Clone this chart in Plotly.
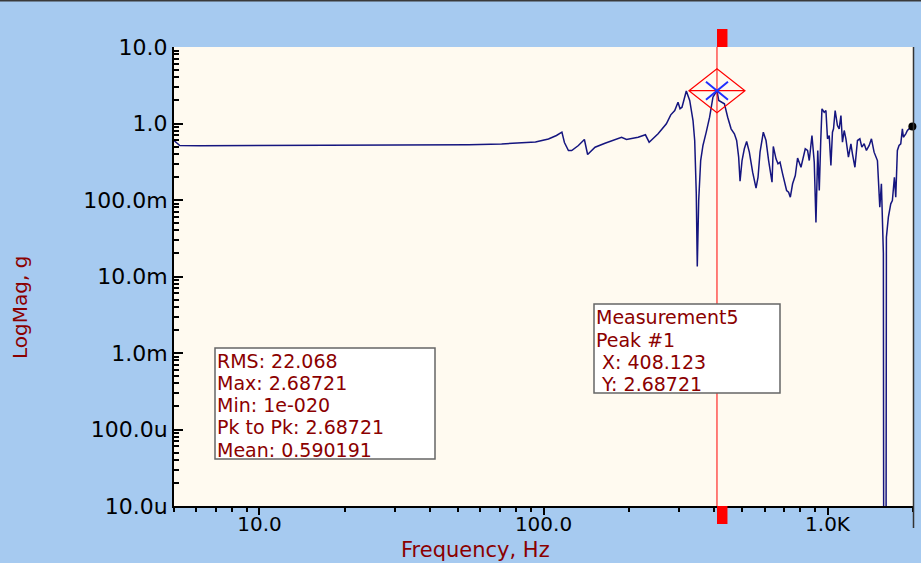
import plotly.graph_objects as go

# ---------------- data ----------------
freq_hz = [
    5.0, 5.24, 6.16, 9.23, 13.8, 20.7, 31.0, 46.4, 54.6, 71.2, 81.7, 93.7,
    104.1, 111.1, 116.1, 118.5, 122.4, 125.7, 132.7, 139.3, 143.0, 151.9,
    164.6, 188.3, 196.0, 215.4, 228.5, 235.5, 253.2, 270.8, 280.6, 289.8,
    297.6, 302.5, 307.4, 318.3, 327.2, 336.1, 340.7, 345.1, 347.9, 351.9,
    357.6, 364.3, 374.1, 384.5, 395.0, 408.123, 414.0, 422.1, 433.5, 445.2,
    457.6, 470.0, 478.7, 486.6, 492.1, 500.1, 509.5, 519.1, 530.6, 545.0,
    560.2, 569.4, 578.7, 594.3, 607.5, 620.4, 637.7, 644.4, 658.7, 669.5,
    680.4, 694.9, 710.3, 717.8, 729.5, 739.7, 753.5, 770.2, 784.6, 806.4,
    835.0, 850.7, 862.5, 881.6, 898.2, 910.6, 924.0, 935.3, 946.8, 956.0,
    973.6, 987.2, 1000, 1014, 1028, 1041, 1050, 1064, 1084, 1099, 1115,
    1129, 1145, 1161, 1185, 1209, 1224, 1249, 1275, 1300, 1321, 1346, 1371,
    1402, 1428, 1459, 1499, 1511, 1528, 1548, 1561, 1573, 1592, 1604, 1612,
    1638, 1670, 1692, 1720, 1739, 1762, 1786, 1811, 1835, 1850, 1886, 1911,
    1964, 1990,
]
mag_g = [
    0.60, 0.516, 0.512, 0.515, 0.515, 0.516, 0.518, 0.522, 0.528, 0.540,
    0.553, 0.574, 0.627, 0.697, 0.770, 0.565, 0.444, 0.444, 0.516, 0.618,
    0.393, 0.490, 0.553, 0.662, 0.618, 0.662, 0.712, 0.570, 0.733, 0.991,
    1.299, 1.479, 1.898, 1.557, 1.633, 2.66, 2.00, 1.094, 0.599, 0.1216,
    0.0135, 0.0985, 0.328, 0.516, 0.770, 1.209, 2.207, 2.68721, 2.00, 1.898,
    1.809, 1.209, 0.852, 0.733, 0.599, 0.363, 0.176, 0.328, 0.467, 0.582,
    0.422, 0.231, 0.1426, 0.1986, 0.422, 0.770, 0.599, 0.328, 0.171, 0.500,
    0.3455, 0.297, 0.312, 0.220, 0.163, 0.133, 0.1265, 0.1088, 0.163, 0.209,
    0.354, 0.268, 0.467, 0.444, 0.328, 0.697, 0.312, 0.0508, 0.444, 0.133,
    0.599, 1.557, 1.405, 1.479, 0.631, 0.697, 0.2825, 0.770, 0.852, 1.479,
    0.942, 0.852, 1.272, 0.570, 0.810, 0.631, 0.363, 0.543, 0.402, 0.268,
    0.599, 0.631, 0.490, 0.543, 0.444, 0.516, 0.631, 0.422, 0.328, 0.180,
    0.0805, 0.163, 0.0362, 0.0202, 1e-20, 0.00161, 0.0326, 0.0596, 0.0892,
    0.0985, 0.1986, 0.1088, 0.444, 0.516, 0.543, 0.852, 0.662, 0.733, 0.810,
    0.895, 0.914,
]

peak_x = 408.123
peak_y = 2.68721

stats_lines = ["RMS: 22.068", "Max: 2.68721", "Min: 1e-020",
               "Pk to Pk: 2.68721", "Mean: 0.590191"]
marker_lines = ["Measurement5", "Peak #1", "\u00a0X: 408.123", "\u00a0Y: 2.68721"]

y_tickvals = [1e-5, 1e-4, 1e-3, 1e-2, 1e-1, 1, 10]
y_ticktext = ["10.0u", "100.0u", "1.0m", "10.0m", "100.0m", "1.0", "10.0"]
x_tickvals = [10, 100, 1000]
x_ticktext = ["10.0", "100.0", "1.0K"]

x_title = "Frequency, Hz"
y_title = "LogMag, g"

# ---------------- layout geometry ----------------
WIDTH, HEIGHT = 921, 563
L, R, T, B = 174, 913, 47, 506
PW, PH = R - L, B - T


def px(x):
    return (x - L) / PW


def py(y):
    return (B - y) / PH


x_minor = [m * 10 ** e for e in range(0, 4) for m in range(2, 10)
           if 5 <= m * 10 ** e <= 2000]
y_minor = [m * 10.0 ** e for e in range(-5, 1) for m in range(2, 10)]

TEXT_RED = "#8B0000"
FONT = "DejaVu Sans"
BOX_FONT = 19

fig = go.Figure()
fig.add_trace(go.Scatter(
    x=freq_hz, y=mag_g, mode="lines",
    line=dict(color="#15157F", width=1.5),
    showlegend=False, hoverinfo="skip",
))
fig.add_trace(go.Scatter(
    x=[freq_hz[-1]], y=[mag_g[-1]], mode="markers",
    marker=dict(color="black", size=8),
    cliponaxis=False, showlegend=False, hoverinfo="skip",
))

shapes = []
# dark strip at the very top of the window
shapes.append(dict(type="rect", xref="paper", yref="paper",
                   x0=px(0), x1=px(WIDTH), y0=py(1.5), y1=py(-1),
                   fillcolor="#3A3A3A", line=dict(width=0), layer="above"))
# right border line extending below the axis
shapes.append(dict(type="line", xref="paper", yref="paper",
                   x0=px(913.5), x1=px(913.5), y0=py(528), y1=py(47),
                   line=dict(color="#333333", width=1.5), layer="above"))
# red cursor line
shapes.append(dict(type="line", xref="x", yref="paper",
                   x0=peak_x, x1=peak_x, y0=0, y1=1,
                   line=dict(color="#FF0000", width=1), layer="above"))
# red squares top and bottom
shapes.append(dict(type="rect", xref="x", yref="paper",
                   xsizemode="pixel", xanchor=peak_x, x0=-10.5, x1=10.5,
                   ysizemode="pixel", yanchor=1, y0=0, y1=18,
                   fillcolor="#FF0000", line=dict(width=0), layer="above"))
shapes.append(dict(type="rect", xref="x", yref="paper",
                   xsizemode="pixel", xanchor=peak_x, x0=-10.5, x1=10.5,
                   ysizemode="pixel", yanchor=0, y0=-18, y1=0,
                   fillcolor="#FF0000", line=dict(width=0), layer="above"))
# diamond marker at the peak
shapes.append(dict(type="path", xref="x", yref="y",
                   xsizemode="pixel", xanchor=peak_x,
                   ysizemode="pixel", yanchor=peak_y,
                   path="M-28,0 L0,22 L28,0 L0,-22 Z M-28,0 L28,0",
                   line=dict(color="#FF0000", width=1.2), layer="above"))
shapes.append(dict(type="path", xref="x", yref="y",
                   xsizemode="pixel", xanchor=peak_x,
                   ysizemode="pixel", yanchor=peak_y,
                   path="M-11,-9 L11,9 M-11,9 L11,-9",
                   line=dict(color="#2030FF", width=2), layer="above"))
# stats box and measurement box
shapes.append(dict(type="rect", xref="paper", yref="paper",
                   x0=px(215), x1=px(435), y0=py(459), y1=py(348),
                   fillcolor="white", line=dict(color="#666666", width=1.5),
                   layer="above"))
shapes.append(dict(type="rect", xref="paper", yref="paper",
                   x0=px(594), x1=px(780), y0=py(393), y1=py(304),
                   fillcolor="white", line=dict(color="#666666", width=1.5),
                   layer="above"))

annotations = []
stat_centers = [360.5, 382.8, 405.1, 427.4, 449.7]
for txt, yc in zip(stats_lines, stat_centers):
    annotations.append(dict(text=txt, xref="paper", yref="paper",
                            x=px(216), y=py(yc), xanchor="left", yanchor="middle",
                            showarrow=False, borderpad=0,
                            font=dict(family=FONT, size=BOX_FONT, color=TEXT_RED)))
marker_centers = [317.2, 339.5, 361.8, 384.1]
for txt, yc in zip(marker_lines, marker_centers):
    annotations.append(dict(text=txt, xref="paper", yref="paper",
                            x=px(595), y=py(yc), xanchor="left", yanchor="middle",
                            showarrow=False, borderpad=0,
                            font=dict(family=FONT, size=BOX_FONT, color=TEXT_RED)))
annotations.append(dict(text=x_title, xref="paper", yref="paper",
                        x=px(475), y=py(550), xanchor="center", yanchor="middle",
                        showarrow=False,
                        font=dict(family=FONT, size=21, color=TEXT_RED)))
annotations.append(dict(text=y_title, xref="paper", yref="paper",
                        x=px(20), y=py(308), xanchor="center", yanchor="middle",
                        textangle=-90, showarrow=False,
                        font=dict(family=FONT, size=20, color=TEXT_RED)))

fig.update_layout(
    width=WIDTH, height=HEIGHT, autosize=False,
    margin=dict(l=L, r=WIDTH - R, t=T, b=HEIGHT - B, pad=0),
    paper_bgcolor="#A6CAF0",
    plot_bgcolor="#FFFAF0",
    showlegend=False,
    shapes=shapes,
    annotations=annotations,
    xaxis=dict(
        type="log", range=[0.69897, 3.30103],
        tickmode="array", tickvals=x_tickvals, ticktext=x_ticktext,
        ticks="outside", ticklen=7, tickwidth=2, tickcolor="black",
        ticklabelstandoff=-8,
        minor=dict(tickmode="array", tickvals=x_minor, ticks="outside",
                   ticklen=4, tickwidth=2, tickcolor="black", showgrid=False),
        showline=True, linecolor="black", linewidth=2,
        showgrid=False, zeroline=False,
        tickfont=dict(family=FONT, size=20, color="black"),
    ),
    yaxis=dict(
        type="log", range=[-5, 1],
        tickmode="array", tickvals=y_tickvals, ticktext=y_ticktext,
        ticks="inside", ticklen=9, tickwidth=2, tickcolor="black",
        minor=dict(tickmode="array", tickvals=y_minor, ticks="inside",
                   ticklen=5, tickwidth=2, tickcolor="black", showgrid=False),
        showline=True, linecolor="black", linewidth=2,
        showgrid=False, zeroline=False,
        tickfont=dict(family=FONT, size=22, color="black"),
    ),
)

fig.write_html("out.html",
               config={"displayModeBar": False},
               post_script="document.body.style.margin='0';"
                           "document.body.style.overflow='hidden';")
